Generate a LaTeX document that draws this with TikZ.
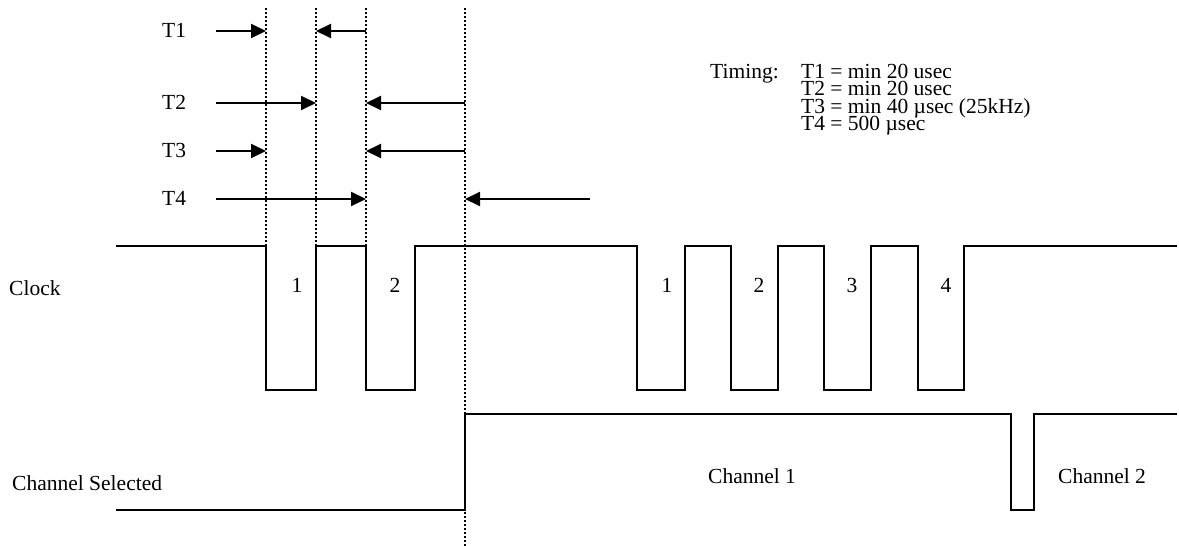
\documentclass[tikz,border=0pt]{standalone}
\usepackage{fontspec}
\setmainfont{Liberation Serif}
\usetikzlibrary{arrows.meta}
\tikzset{
  lbl/.style={inner sep=0pt, font=\fontsize{21.5}{17}\selectfont, anchor=base west, text height=12pt, text depth=3pt},
  num/.style={inner sep=0pt, font=\fontsize{21.5}{17}\selectfont, anchor=base},
  wave/.style={line width=1.5pt, line join=miter},
  guide/.style={line width=2.2pt, dash pattern=on 2pt off 2pt},
  tarrow/.style={line width=2pt, -{Triangle[length=15pt,width=14pt]}}
}
\begin{document}
\begin{tikzpicture}[x=1pt,y=-1pt]
\useasboundingbox (0,0) rectangle (1179,546);
% guide coordinates
\coordinate (g1) at (266,8);  \coordinate (g1b) at (266,390);
\coordinate (g2) at (316,8);  \coordinate (g2b) at (316,390);
\coordinate (g3) at (366,8);  \coordinate (g3b) at (366,390);
\coordinate (g4) at (465,8);  \coordinate (g4b) at (465,546);
\draw[guide] (g1) -- (g1b);
\draw[guide] (g2) -- (g2b);
\draw[guide] (g3) -- (g3b);
\draw[guide] (g4) -- (g4b);
% timing arrow labels
\node[lbl] (t1) at (162,37) {T1};
\node[lbl] (t2) at (162,109) {T2};
\node[lbl] (t3) at (162,157) {T3};
\node[lbl] (t4) at (162,205) {T4};
% arrows
\coordinate (a1s) at (216,31);  \coordinate (a1e) at (266,31);
\coordinate (b1s) at (366,31);  \coordinate (b1e) at (316,31);
\coordinate (a2s) at (216,103); \coordinate (a2e) at (316,103);
\coordinate (b2s) at (465,103); \coordinate (b2e) at (366,103);
\coordinate (a3s) at (216,151); \coordinate (a3e) at (266,151);
\coordinate (b3s) at (465,151); \coordinate (b3e) at (366,151);
\coordinate (a4s) at (216,199); \coordinate (a4e) at (366,199);
\coordinate (b4s) at (590,199); \coordinate (b4e) at (465,199);
\draw[tarrow] (a1s) -- (a1e);
\draw[tarrow] (b1s) -- (b1e);
\draw[tarrow] (a2s) -- (a2e);
\draw[tarrow] (b2s) -- (b2e);
\draw[tarrow] (a3s) -- (a3e);
\draw[tarrow] (b3s) -- (b3e);
\draw[tarrow] (a4s) -- (a4e);
\draw[tarrow] (b4s) -- (b4e);
% timing text
\node[lbl] (timing) at (710,78) {Timing:};
\node[lbl] (tt1) at (801,78) {T1 = min 20 usec};
\node[lbl] (tt2) at (801,95.5) {T2 = min 20 usec};
\node[lbl] (tt3) at (801,113) {T3 = min 40 µsec (25kHz)};
\node[lbl] (tt4) at (801,130.5) {T4 = 500 µsec};
% signal labels
\node[lbl] (clk) at (9,295) {Clock};
\node[lbl] (chs) at (12,490) {Channel Selected};
% clock waveform
\draw[wave] (116,246) -- (266,246) -- (266,390) -- (316,390) -- (316,246)
  -- (366,246) -- (366,390) -- (415,390) -- (415,246)
  -- (637,246) -- (637,390) -- (685,390) -- (685,246)
  -- (731,246) -- (731,390) -- (778,390) -- (778,246)
  -- (824,246) -- (824,390) -- (871,390) -- (871,246)
  -- (918,246) -- (918,390) -- (964,390) -- (964,246)
  -- (1177,246);
\node[num] (p1) at (297,292) {1};
\node[num] (p2) at (395,292) {2};
\node[num] (q1) at (667,292) {1};
\node[num] (q2) at (759,292) {2};
\node[num] (q3) at (852,292) {3};
\node[num] (q4) at (946,292) {4};
% channel selected waveform
\draw[wave] (116,510) -- (465,510) -- (465,414) -- (1011,414) -- (1011,510)
  -- (1034,510) -- (1034,414) -- (1177,414);
\node[lbl] (ch1) at (708,483) {Channel 1};
\node[lbl] (ch2) at (1058,483) {Channel 2};
\end{tikzpicture}
\end{document}
